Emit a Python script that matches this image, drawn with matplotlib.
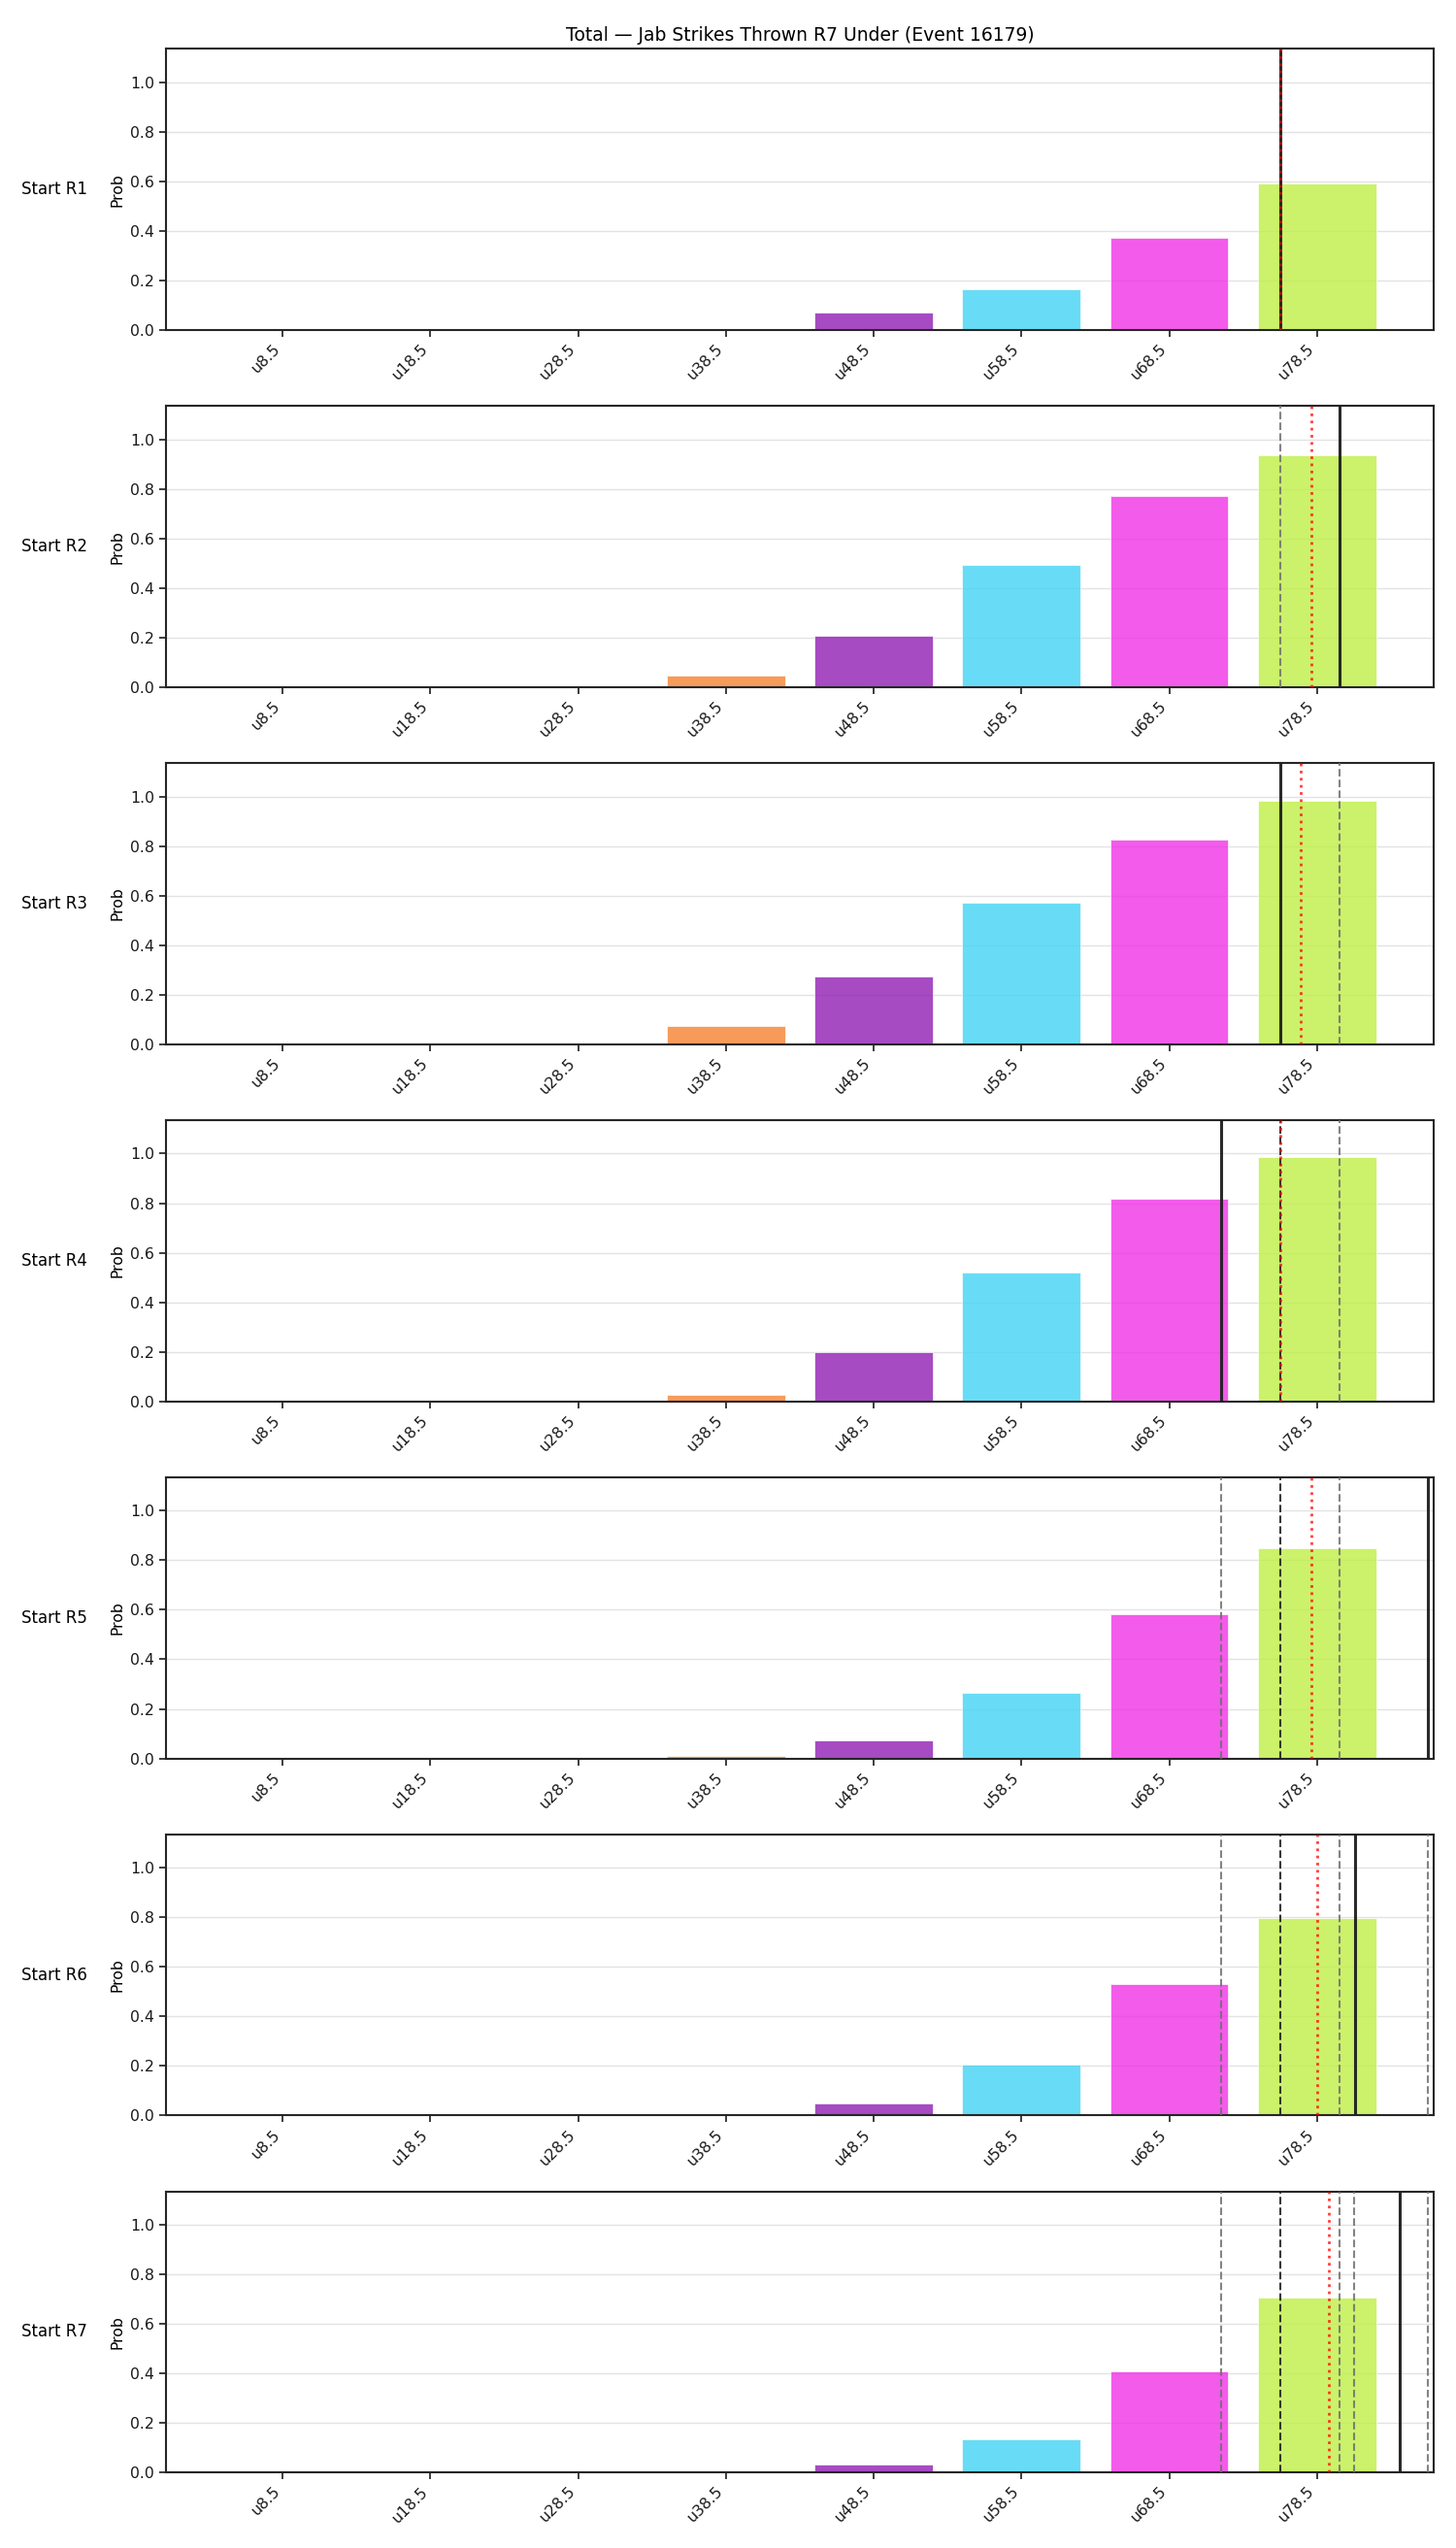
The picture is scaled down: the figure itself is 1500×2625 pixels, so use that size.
import numpy as np
import matplotlib
matplotlib.use("Agg")
import matplotlib.pyplot as plt

# ---- data ----
thresholds = [8.5, 18.5, 28.5, 38.5, 48.5, 58.5, 68.5, 78.5]
tick_labels = ["u8.5", "u18.5", "u28.5", "u38.5", "u48.5", "u58.5", "u68.5", "u78.5"]
start_rounds = ["Start R1", "Start R2", "Start R3", "Start R4", "Start R5", "Start R6", "Start R7"]

probs_r1 = [0.0, 0.0, 0.0, 0.002, 0.069, 0.166, 0.373, 0.591]
probs_r2 = [0.0, 0.0, 0.005, 0.045, 0.209, 0.495, 0.770, 0.938]
probs_r3 = [0.0, 0.0, 0.0, 0.073, 0.273, 0.573, 0.825, 0.981]
probs_r4 = [0.0, 0.0, 0.0, 0.028, 0.198, 0.520, 0.818, 0.987]
probs_r5 = [0.0, 0.0, 0.0, 0.010, 0.073, 0.264, 0.582, 0.850]
probs_r6 = [0.0, 0.0, 0.0, 0.005, 0.049, 0.206, 0.530, 0.797]
probs_r7 = [0.0, 0.0, 0.0, 0.001, 0.033, 0.134, 0.408, 0.708]
all_probs = [probs_r1, probs_r2, probs_r3, probs_r4, probs_r5, probs_r6, probs_r7]

# reference lines (in strike units): solid = current line, dotted = mean,
# dark dashed = median, gray dashed = other lines
solid_lines = [76.0, 80.0, 76.0, 72.0, 86.0, 81.1, 84.1]
mean_lines = [76.0, 78.1, 77.4, 76.0, 78.1, 78.5, 79.3]
median_lines = [[], [], [], [76.0], [76.0], [76.0], [76.0]]
other_lines = [[], [76.0], [80.0], [80.0], [72.0, 80.0], [72.0, 80.0, 86.0],
               [72.0, 80.0, 81.0, 86.0]]

palette = ["#e6194B", "#3cb44b", "#ffe119", "#4363d8", "#f58231", "#911eb4",
           "#42d4f4", "#f032e6", "#bfef45"]
bar_colors = palette[1:9]

title = "Total \u2014 Jab Strikes Thrown R7 Under (Event 16179)"


def to_pos(v):
    # map a strike count onto the categorical bar axis (linear in thresholds)
    return (v - thresholds[0]) / (thresholds[1] - thresholds[0])


plt.rcParams["font.family"] = ["DejaVu Sans"]
fig, axes = plt.subplots(7, 1, figsize=(15, 26.25), dpi=100)
fig.subplots_adjust(left=0.114, right=0.9847, top=0.9808, bottom=0.0296, hspace=0.270)

edge = "#262626"
x = np.arange(len(tick_labels))
for i, ax in enumerate(axes):
    ax.bar(x, all_probs[i], width=0.8, color=bar_colors, alpha=0.8,
           edgecolor="white", linewidth=0.6, zorder=2)
    for v in other_lines[i]:
        ax.axvline(to_pos(v), color="#6e6e6e", linestyle="--", linewidth=1.5,
                   alpha=0.85, zorder=3)
    for v in median_lines[i]:
        ax.axvline(to_pos(v), color="#222222", linestyle="--", linewidth=1.5,
                   alpha=0.9, zorder=3)
    ax.axvline(to_pos(solid_lines[i]), color="#1e1e1e", linestyle="-",
               linewidth=2.2, alpha=0.95, zorder=4)
    ax.axvline(to_pos(mean_lines[i]), color="red", linestyle=":",
               linewidth=2.0, alpha=0.75, zorder=5)

    ax.set_xlim(-0.79, 7.79)
    ax.set_ylim(0, 1.135)
    ax.set_yticks([0.0, 0.2, 0.4, 0.6, 0.8, 1.0])
    ax.set_xticks(x)
    ax.set_xticklabels(tick_labels, rotation=45, ha="right", fontsize=11.3)
    ax.tick_params(axis="both", labelsize=11.3, length=5, width=1.25,
                   color=edge, labelcolor="#1a1a1a")
    ax.grid(axis="y", color="#e3e3e3", linewidth=1.0, zorder=0)
    ax.set_axisbelow(True)
    for s in ax.spines.values():
        s.set_color(edge)
        s.set_linewidth(1.5)
    ax.set_ylabel("Prob", fontsize=11.3)
    ax.text(-0.062, 0.5, start_rounds[i], transform=ax.transAxes,
            ha="right", va="center", fontsize=12)

axes[0].set_title(title, fontsize=13.5)

fig.savefig("out.png", dpi=100)
